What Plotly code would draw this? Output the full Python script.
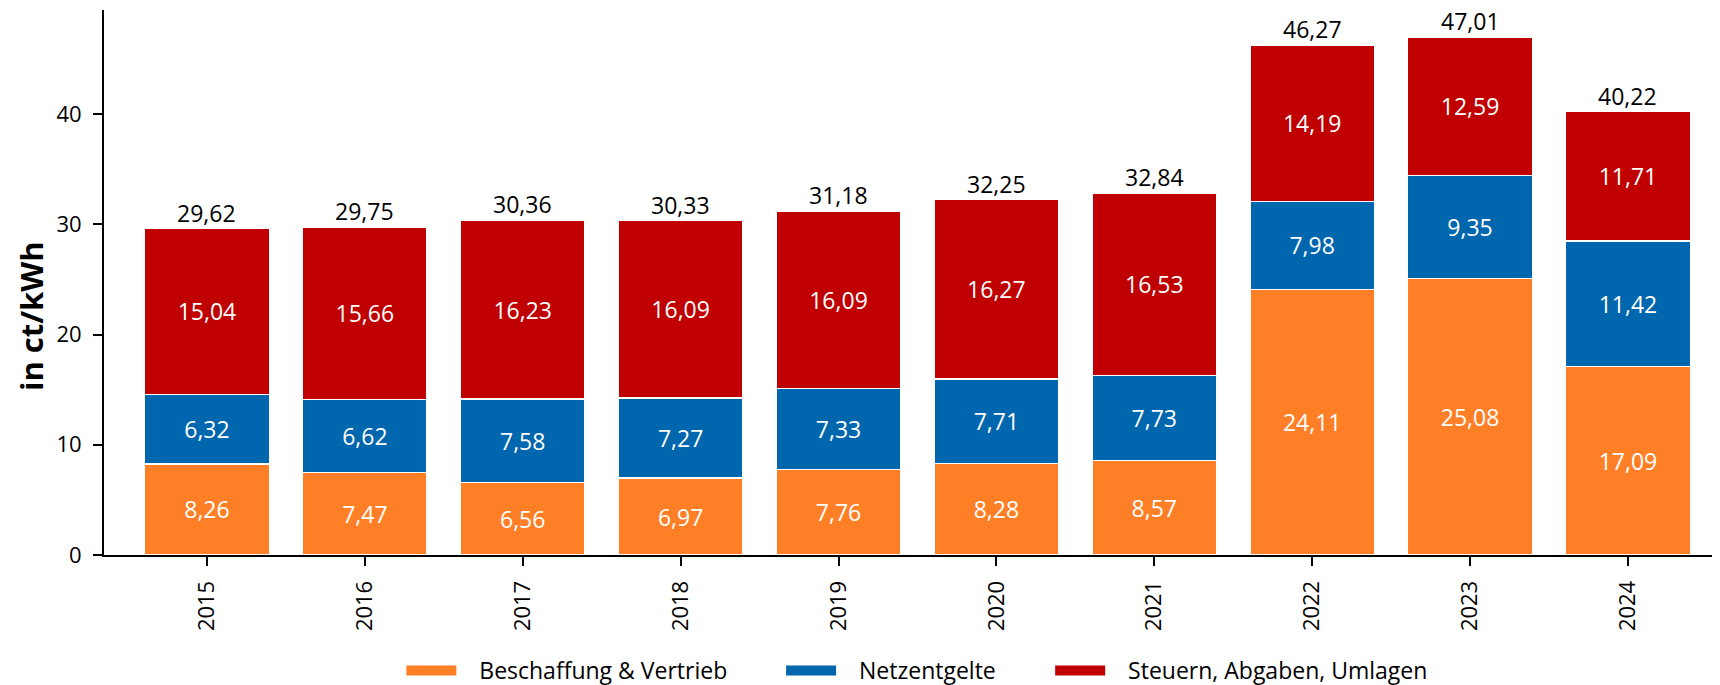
import plotly.graph_objects as go

years = ["2015", "2016", "2017", "2018", "2019", "2020", "2021", "2022", "2023", "2024"]
beschaffung = [8.26, 7.47, 6.56, 6.97, 7.76, 8.28, 8.57, 24.11, 25.08, 17.09]
netzentgelte = [6.32, 6.62, 7.58, 7.27, 7.33, 7.71, 7.73, 7.98, 9.35, 11.42]
steuern = [15.04, 15.66, 16.23, 16.09, 16.09, 16.27, 16.53, 14.19, 12.59, 11.71]
totals = [29.62, 29.75, 30.36, 30.33, 31.18, 32.25, 32.84, 46.27, 47.01, 40.22]

series = [
    ("Beschaffung & Vertrieb", beschaffung, "#FF7F27", "legend", 0.1840),
    ("Netzentgelte", netzentgelte, "#0066AD", "legend2", 0.4190),
    ("Steuern, Abgaben, Umlagen", steuern, "#C00000", "legend3", 0.5855),
]

FONT = "Open Sans"
GAP = "\u00a0" * 3

fig = go.Figure()
for name, vals, col, lg, _ in series:
    fig.add_trace(go.Bar(
        x=years, y=vals, name=name, showlegend=False,
        marker=dict(color=col, line=dict(color="white", width=1.5)),
        texttemplate="%{y:.2f}", textposition="inside", insidetextanchor="middle",
        textfont=dict(color="white", size=23, family=FONT),
        hoverinfo="skip",
    ))

# legend entries (wide colour swatches like the original)
for name, vals, col, lg, _ in series:
    fig.add_trace(go.Scatter(
        x=[None], y=[None], mode="lines", name=GAP + name, legend=lg,
        line=dict(color=col, width=15), hoverinfo="skip",
    ))

# totals above each bar, positioned through the data axes (category index)
for i, tot in enumerate(totals):
    fig.add_annotation(
        x=i, y=tot, xref="x", yref="y", text=f"{tot:.2f}".replace(".", ","),
        showarrow=False, xanchor="center", yanchor="bottom", yshift=-2,
        font=dict(color="black", size=23, family=FONT),
    )

legend_common = dict(orientation="h", xanchor="left", y=-0.212, yanchor="middle",
                     itemwidth=50,
                     font=dict(size=23, family=FONT), bgcolor="rgba(0,0,0,0)")
layout_legends = {}
for name, vals, col, lg, xpos in series:
    layout_legends[lg] = dict(legend_common, x=xpos)

# page body has an 8px margin, so the figure is sized/shifted to compensate
fig.update_layout(
    barmode="stack", bargap=0.21,
    width=1712, height=677,
    separators=",.",
    plot_bgcolor="white", paper_bgcolor="white",
    margin=dict(l=96, r=0, t=2, b=130, autoexpand=False),
    font=dict(family=FONT, color="black"),
    showlegend=True,
    **layout_legends,
)
fig.add_annotation(
    text="<b>in ct/kWh</b>", textangle=-90, xref="paper", yref="paper",
    x=-0.0594, y=0.4385, xanchor="left", yanchor="middle", showarrow=False,
    font=dict(size=31, family=FONT, color="black"),
)
fig.update_xaxes(
    type="category", range=[-0.652, 9.583], automargin=False,
    showline=True, linecolor="black", linewidth=2,
    ticks="outside", ticklen=9, tickcolor="black", tickwidth=2, ticklabelstandoff=6,
    tickangle=-90, tickfont=dict(size=22, family=FONT),
    showgrid=False,
)
fig.update_yaxes(
    range=[0, 49.45], tickvals=[0, 10, 20, 30, 40], automargin=False,
    showline=True, linecolor="black", linewidth=2,
    ticks="outside", ticklen=9, tickcolor="black", tickwidth=2, ticklabelstandoff=7,
    tickfont=dict(size=22, family=FONT),
    showgrid=False, zeroline=False,
)

fig.write_html("out.html")
